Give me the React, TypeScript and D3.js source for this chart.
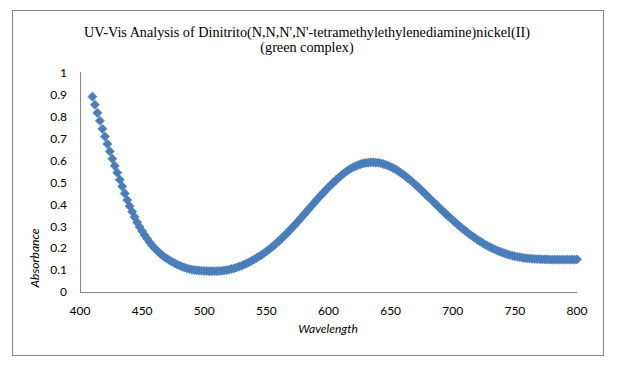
import React, { useEffect, useRef } from "react";
import * as d3 from "d3";

const wavelengths: number[] = [
  410, 412, 414, 416, 418, 420, 422, 424, 426, 428, 430, 432, 434, 436, 438, 440, 442, 444, 446, 448,
  450, 452, 454, 456, 458, 460, 462, 464, 466, 468, 470, 472, 474, 476, 478, 480, 482, 484, 486, 488,
  490, 492, 494, 496, 498, 500, 502, 504, 506, 508, 510, 512, 514, 516, 518, 520, 522, 524, 526, 528,
  530, 532, 534, 536, 538, 540, 542, 544, 546, 548, 550, 552, 554, 556, 558, 560, 562, 564, 566, 568,
  570, 572, 574, 576, 578, 580, 582, 584, 586, 588, 590, 592, 594, 596, 598, 600, 602, 604, 606, 608,
  610, 612, 614, 616, 618, 620, 622, 624, 626, 628, 630, 632, 634, 636, 638, 640, 642, 644, 646, 648,
  650, 652, 654, 656, 658, 660, 662, 664, 666, 668, 670, 672, 674, 676, 678, 680, 682, 684, 686, 688,
  690, 692, 694, 696, 698, 700, 702, 704, 706, 708, 710, 712, 714, 716, 718, 720, 722, 724, 726, 728,
  730, 732, 734, 736, 738, 740, 742, 744, 746, 748, 750, 752, 754, 756, 758, 760, 762, 764, 766, 768,
  770, 772, 774, 776, 778, 780, 782, 784, 786, 788, 790, 792, 794, 796, 798, 800,
];

const absorbance: number[] = [
  0.892, 0.855, 0.818, 0.782, 0.745, 0.71, 0.676, 0.642, 0.608, 0.576, 0.545, 0.513, 0.482, 0.45, 0.42, 0.392, 0.366, 0.342, 0.318, 0.297,
  0.278, 0.26, 0.243, 0.227, 0.213, 0.2, 0.19, 0.178, 0.168, 0.16, 0.152, 0.145, 0.138, 0.132, 0.126, 0.121, 0.116, 0.112, 0.108, 0.105,
  0.102, 0.1, 0.099, 0.098, 0.097, 0.096, 0.096, 0.095, 0.095, 0.095, 0.095, 0.096, 0.097, 0.098, 0.1, 0.102, 0.105, 0.108, 0.112, 0.116,
  0.12, 0.125, 0.13, 0.136, 0.142, 0.148, 0.155, 0.162, 0.169, 0.177, 0.185, 0.194, 0.203, 0.212, 0.222, 0.232, 0.243, 0.254, 0.265, 0.277,
  0.289, 0.301, 0.313, 0.326, 0.339, 0.352, 0.365, 0.378, 0.391, 0.404, 0.417, 0.43, 0.442, 0.454, 0.466, 0.478, 0.489, 0.5, 0.511, 0.521,
  0.531, 0.54, 0.549, 0.557, 0.564, 0.57, 0.575, 0.58, 0.584, 0.587, 0.589, 0.591, 0.592, 0.592, 0.591, 0.59, 0.588, 0.585, 0.581, 0.577,
  0.572, 0.566, 0.56, 0.553, 0.545, 0.537, 0.528, 0.519, 0.51, 0.5, 0.49, 0.48, 0.469, 0.458, 0.447, 0.436, 0.425, 0.414, 0.403, 0.392,
  0.381, 0.37, 0.359, 0.348, 0.338, 0.328, 0.318, 0.308, 0.298, 0.289, 0.28, 0.271, 0.262, 0.254, 0.246, 0.238, 0.231, 0.224, 0.217, 0.211,
  0.205, 0.199, 0.194, 0.189, 0.184, 0.18, 0.176, 0.172, 0.169, 0.166, 0.163, 0.161, 0.159, 0.157, 0.155, 0.154, 0.153, 0.152, 0.151, 0.15,
  0.15, 0.149, 0.149, 0.149, 0.148, 0.148, 0.148, 0.148, 0.148, 0.148, 0.148, 0.148, 0.148, 0.148, 0.148, 0.149,
];

const xTicks: number[] = [400, 450, 500, 550, 600, 650, 700, 750, 800];
const yTicks: number[] = [0, 0.1, 0.2, 0.3, 0.4, 0.5, 0.6, 0.7, 0.8, 0.9, 1];

const titleLines: string[] = [
  "UV-Vis Analysis of Dinitrito(N,N,N',N'-tetramethylethylenediamine)nickel(II)",
  "(green complex)",
];
const xLabel = "Wavelength";
const yLabel = "Absorbance";

const W = 620;
const H = 373;
const plot = { left: 80, right: 577, top: 73, bottom: 292 };
const axisColor = "#868686";
const markerColor = "#4a7ebb";
const tickFont = "Lato, 'Open Sans', sans-serif";

export default function App() {
  const ref = useRef<SVGSVGElement | null>(null);

  useEffect(() => {
    const svg = d3.select(ref.current);
    svg.selectAll("*").remove();

    const x = d3.scaleLinear().domain([400, 800]).range([plot.left, plot.right]);
    const y = d3.scaleLinear().domain([0, 1]).range([plot.bottom, plot.top]);

    svg.append("rect").attr("width", W).attr("height", H).attr("fill", "#fff");

    // outer chart border
    svg
      .append("rect")
      .attr("x", 12.5)
      .attr("y", 10.5)
      .attr("width", 591)
      .attr("height", 345)
      .attr("fill", "none")
      .attr("stroke", axisColor)
      .attr("stroke-width", 1);

    // title
    const title = svg
      .append("text")
      .attr("text-anchor", "middle")
      .attr("font-family", "'Liberation Serif', 'Times New Roman', serif")
      .attr("font-size", 14.2)
      .attr("fill", "#000");
    titleLines.forEach((t, i) => {
      title
        .append("tspan")
        .attr("x", 307)
        .attr("y", 37 + i * 15)
        .text(t);
    });

    // axes lines
    svg
      .append("line")
      .attr("x1", plot.left + 0.5)
      .attr("x2", plot.left + 0.5)
      .attr("y1", plot.top - 1)
      .attr("y2", plot.bottom)
      .attr("stroke", axisColor);
    svg
      .append("line")
      .attr("x1", plot.left)
      .attr("x2", plot.right)
      .attr("y1", plot.bottom + 0.5)
      .attr("y2", plot.bottom + 0.5)
      .attr("stroke", axisColor);

    // y tick labels
    svg
      .append("g")
      .selectAll("text")
      .data(yTicks)
      .join("text")
      .attr("x", 67)
      .attr("y", (d) => y(d))
      .attr("dy", "0.35em")
      .attr("text-anchor", "end")
      .attr("font-family", tickFont)
      .attr("font-size", 12)
      .attr("fill", "#000")
      .text((d) => d3.format("")(d));

    // x tick labels
    svg
      .append("g")
      .selectAll("text")
      .data(xTicks)
      .join("text")
      .attr("x", (d) => x(d))
      .attr("y", 314.5)
      .attr("text-anchor", "middle")
      .attr("font-family", tickFont)
      .attr("font-size", 12)
      .attr("fill", "#000")
      .text((d) => String(d));

    // axis titles
    svg
      .append("text")
      .attr("x", 328)
      .attr("y", 333)
      .attr("text-anchor", "middle")
      .attr("font-family", tickFont)
      .attr("font-style", "italic")
      .attr("font-size", 12)
      .attr("fill", "#000")
      .text(xLabel);
    svg
      .append("text")
      .attr("transform", "translate(39,258) rotate(-90)")
      .attr("text-anchor", "middle")
      .attr("font-family", tickFont)
      .attr("font-style", "italic")
      .attr("font-size", 12)
      .attr("fill", "#000")
      .text(yLabel);

    // markers (diamonds)
    const diamond = d3.symbol().type(d3.symbolSquare).size(42)();
    svg
      .append("g")
      .selectAll("path")
      .data(wavelengths.map((w, i) => [w, absorbance[i]] as [number, number]))
      .join("path")
      .attr("d", diamond)
      .attr("transform", (d) => `translate(${x(d[0])},${y(d[1])}) rotate(45)`)
      .attr("fill", markerColor)
      .attr("stroke", markerColor)
      .attr("stroke-width", 0.6);
  }, []);

  return (
    <svg
      ref={ref}
      width={W}
      height={H}
      style={{ position: "absolute", left: 0, top: 0, display: "block" }}
    />
  );
}
